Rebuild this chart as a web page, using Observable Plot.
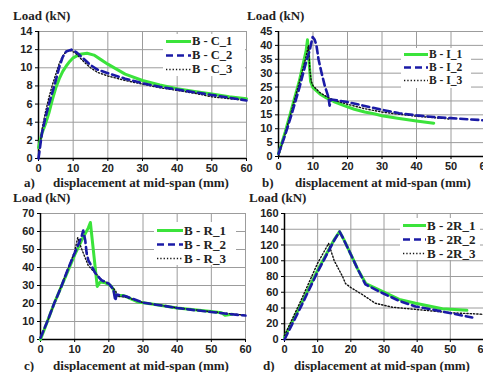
<!DOCTYPE html>
<html><head><meta charset="utf-8">
<script src="https://cdn.jsdelivr.net/npm/d3@7"></script>
<script src="https://cdn.jsdelivr.net/npm/@observablehq/plot@0.6"></script>
<style>
body{margin:0;background:#fff;overflow:hidden}
#root{position:relative;width:483px;height:372px;overflow:hidden;background:#fff}
.p{position:absolute;overflow:visible}
.lbl{position:absolute;font-family:"Liberation Serif","Times New Roman","DejaVu Serif";font-weight:bold;font-size:13px;color:#222;white-space:nowrap;line-height:13px}
.leg{position:absolute;background:#fff;font-family:"Liberation Serif","Times New Roman","DejaVu Serif";font-weight:bold;font-size:13px;color:#222;line-height:11px}
.row{position:absolute;left:0;display:flex;align-items:center;white-space:nowrap;line-height:11px}
.row span{line-height:11px;display:inline-block;height:11px}
</style></head><body><div id="root"></div><script>
// ---- tick labels ----
const xTicks = [0, 10, 20, 30, 40, 50, 60];
const yTicksA = [0, 2, 4, 6, 8, 10, 12, 14];
const yTicksB = [0, 5, 10, 15, 20, 25, 30, 35, 40, 45];
const yTicksC = [0, 10, 20, 30, 40, 50, 60, 70];
const yTicksD = [0, 20, 40, 60, 80, 100, 120, 140, 160];

// ---- legend labels ----
const namesA = ["B - C_1", "B - C_2", "B - C_3"];
const namesB = ["B - I_1", "B - I_2", "B - I_3"];
const namesC = ["B - R_1", "B - R_2", "B - R_3"];
const namesD = ["B - 2R_1", "B - 2R_2", "B - 2R_3"];

// ---- panel a) ----
const aX1 = [0,1,2,3,4,5,6,7,8,9,10,12,14,16,18,20,25,30,35,40,45,50,55,60];
const aY1 = [1.2,2.8,3.8,5,6.5,7.8,8.8,9.6,10.2,10.7,11.1,11.5,11.6,11.4,10.9,10.4,9.3,8.6,8.1,7.7,7.4,7.1,6.8,6.6];
const aX2 = [0,1,2,3,4,5,6,7,8,9.5,11,13,15,17,20,25,30,35,40,45,50,55,60];
const aY2 = [0,2.8,4.5,6,7.3,8.6,10.1,11.2,11.8,12,11.7,11,10.3,9.8,9.4,8.8,8.3,7.9,7.6,7.3,7.0,6.7,6.4];
const aX3 = [0,1,2,3,4,5,6,7,8,9.5,11,13,15,17,20,25,30,35,40,45,50,55,60];
const aY3 = [0,3.2,5.1,6.7,8.1,9.3,10.5,11.3,11.8,11.9,11.5,10.7,10,9.5,9.1,8.6,8.2,7.8,7.5,7.2,6.8,6.6,6.4];

// ---- panel b) ----
const bX1 = [0,2,4,6,8,8.4,9,9.3,10,12,14,16,19,22,25,28,30,35,40,45];
const bY1 = [1,9,18,27,38,42,32,27,24.8,22.5,21,19.8,18.3,17,16,15.3,14.7,13.7,12.8,12];
const bX2 = [0,2,4,6,8,9,9.9,10.5,11,11.6,12.5,13.4,14.5,14.8,15.2,17,20,25,30,35,40,45,50,55,60];
const bY2 = [1,8,16,24.5,34,38,43,42,40,35,30,25.5,21.3,18.3,20.5,20.2,19.6,18.2,16.8,15.6,14.8,14.2,13.8,13.4,13];
const bX3 = [0,2,4,6,8,8.7,9.1,9.5,10,12,14,16,20,25,30,35,40,45,49.5];
const bY3 = [0,8.5,17.5,26.5,36,40,31,27,25.5,23,21.5,20.3,18.8,17.2,16,15.2,14.5,14,13.5];

// ---- panel c) ----
const cX1 = [0,2,4,6,8,10,12,14,14.6,16.6,17.5,19,20.5,21.3,21.9,23,24.2,26,28.6,33.5,40,45,50,53,54,55,56];
const cY1 = [0,10,20,29,38,47,55,62,65,29.5,32,31.5,30,28,24.5,24.5,24.5,23,20.8,19.4,17.5,16.5,15.5,14.8,13.5,13.8,14];
const cX2 = [0,2,4,6,8,10,12,12.5,13.1,13.5,14,16,17.8,20,21.3,21.9,22.3,25,30,35,40,45,50,55,60];
const cY2 = [1,10,20,29,39,48,57,60.5,55,48,44,37,33,31,28,21.6,25,24,20.5,19,17.5,16.3,15.3,14.2,13.3];
const cX3 = [0,2,4,6,8,10,10.9,12,14,16,18,20,22,22.5,25,30,35,40,45,50,55,60];
const cY3 = [1,10,20,29.5,39,49,56.6,50.5,41,37,33,31,27,24,23.5,20.5,19,17.6,16.5,15.5,14.4,13.5];

// ---- panel d) ----
const dX1 = [0,5,10,15,16.6,18,20,22,24.5,29.5,34.6,39.5,47.6,55];
const dY1 = [3,45,88,127,137,126,108,90,71,61,51,46,39,37];
const dX2 = [0,5,10,15,16.6,17.5,20,22,24.4,29.5,34.6,39.5,47.6,56.6];
const dY2 = [0,42,86,126,137,130,108,90,70,59,49,42,35.5,28];
const dX3 = [0,5,10,13.3,15,17.5,18.4,20,23.5,27.4,32.5,42.5,50,60];
const dY3 = [5,50,97,122,100,80,71,66,57,46,41,37,34,32];

const styles = [
  {stroke: "#3be33b", strokeWidth: 3, strokeDasharray: null},
  {stroke: "#1b1ba6", strokeWidth: 2.6, strokeDasharray: "7,4"},
  {stroke: "#111111", strokeWidth: 1.4, strokeDasharray: "1.3,2"}
];

const panels = [
  {left:0, top:0, mt:31, mb:28, ml:38, mr:4, yTicks:yTicksA, series:[[aX1,aY1],[aX2,aY2],[aX3,aY3]], names:namesA, fs:12.5,
   leg:{x:163, y:34, w:82, rows:[41,55,69], lw:25}, ytitle:[13,16], letter:["a)",24,183], xl:[141,183]},
  {left:242, top:0, mt:31, mb:30, ml:36, mr:7, yTicks:yTicksB, series:[[bX1,bY1],[bX2,bY2],[bX3,bY3]], names:namesB, fs:11.5,
   leg:{x:401, y:48, w:70, rows:[54.5,67.5,80.5], lw:24}, ytitle:[247,16], letter:["b)",262,183], xl:[383,183]},
  {left:0, top:186, mt:27, mb:33, ml:40, mr:5, yTicks:yTicksC, series:[[cX1,cY1],[cX2,cY2],[cX3,cY3]], names:namesC, fs:13,
   leg:{x:154, y:222, w:82, rows:[230,244,258], lw:26}, ytitle:[13,198], letter:["c)",24,366], xl:[141,366]},
  {left:242, top:186, mt:27, mb:33, ml:42, mr:9, yTicks:yTicksD, series:[[dX1,dY1],[dX2,dY2],[dX3,dY3]], names:namesD, fs:13,
   leg:{x:400, y:218, w:80, rows:[225,239,253], lw:23}, ytitle:[249,198], letter:["d)",263,366], xl:[382,366]}
];

const root = document.getElementById("root");
const W = 250, H = 186;

for (const p of panels) {
  const ymax = p.yTicks[p.yTicks.length - 1];
  const lineMarks = [0, 2, 1].map(i => {
    const [xs, ys] = p.series[i];
    const table = xs.map((x, k) => ({x, y: ys[k]}));
    const s = styles[i];
    return Plot.line(table, {x: "x", y: "y", stroke: s.stroke, strokeWidth: s.strokeWidth,
      strokeDasharray: s.strokeDasharray, strokeLinejoin: "round"});
  });
  const chart = Plot.plot({
    width: W, height: H,
    marginTop: p.mt, marginBottom: p.mb, marginLeft: p.ml, marginRight: p.mr,
    x: {domain: [0, 60]},
    y: {domain: [0, ymax]},
    style: {fontFamily: "'Liberation Sans', Arial, sans-serif", fontSize: "11px", fontWeight: "bold", color: "#222", background: "transparent", overflow: "visible"},
    marks: [
      Plot.gridX(xTicks, {stroke: "#9c9c9c", strokeOpacity: 1, strokeWidth: 1}),
      Plot.gridY(p.yTicks, {stroke: "#9c9c9c", strokeOpacity: 1, strokeWidth: 1}),
      Plot.axisX(xTicks, {tickSize: 3, tickPadding: 3, label: null, stroke: "#000"}),
      Plot.axisY(p.yTicks, {tickSize: 3, tickPadding: 3, label: null, stroke: "#000"}),
      Plot.ruleX([0], {stroke: "#000", strokeWidth: 1.5}),
      Plot.ruleY([0], {stroke: "#000", strokeWidth: 1.5}),
      ...lineMarks
    ]
  });
  chart.classList.add("p");
  chart.style.left = p.left + "px";
  chart.style.top = p.top + "px";
  root.appendChild(chart);

  // legend
  const leg = document.createElement("div");
  leg.className = "leg";
  leg.style.fontSize = p.fs + "px";
  const L = p.leg;
  leg.style.left = L.x + "px";
  leg.style.top = L.y + "px";
  leg.style.width = L.w + "px";
  leg.style.height = (L.rows[2] - L.y + 7) + "px";
  p.names.forEach((name, i) => {
    const s = styles[i];
    const row = document.createElement("div");
    row.className = "row";
    row.style.top = (L.rows[i] - L.y - 5.5) + "px";
    row.style.height = "11px";
    row.style.left = "3px";
    const svg = d3.create("svg").attr("width", L.lw + 1).attr("height", 11);
    svg.append("line").attr("x1", 0).attr("x2", L.lw).attr("y1", 5.5).attr("y2", 5.5)
      .attr("stroke", s.stroke).attr("stroke-width", s.strokeWidth)
      .attr("stroke-dasharray", s.strokeDasharray);
    row.appendChild(svg.node());
    const t = document.createElement("span");
    t.textContent = name;
    row.appendChild(t);
    leg.appendChild(row);
  });
  root.appendChild(leg);

  // y title
  const yt = document.createElement("div");
  yt.className = "lbl";
  yt.textContent = "Load (kN)";
  yt.style.left = p.ytitle[0] + "px";
  yt.style.top = (p.ytitle[1] - 7) + "px";
  root.appendChild(yt);

  // letter
  const lt = document.createElement("div");
  lt.className = "lbl";
  lt.textContent = p.letter[0];
  lt.style.left = p.letter[1] + "px";
  lt.style.top = (p.letter[2] - 7) + "px";
  root.appendChild(lt);

  // x title
  const xt = document.createElement("div");
  xt.className = "lbl";
  xt.textContent = "displacement at mid-span (mm)";
  xt.style.left = p.xl[0] + "px";
  xt.style.top = (p.xl[1] - 7) + "px";
  xt.style.transform = "translateX(-50%)";
  root.appendChild(xt);
}
</script></body></html>
